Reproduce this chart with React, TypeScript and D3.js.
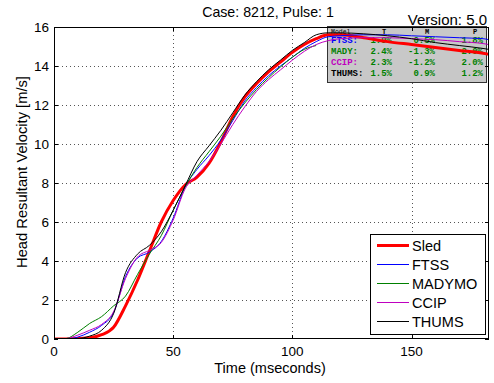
import * as d3 from "d3";
import { ReactElement } from "react";

// time base (ms) shared by all series
const time = [0, 5, 10, 15, 20, 25, 30, 35, 40, 45, 50, 55, 60, 65, 70, 75, 80, 85, 90, 95, 100, 105, 110, 115, 120, 130, 140, 150, 160, 170, 180, 182.5];

// head resultant velocity [m/s]; NaN = no data
const sled = [0, 0, 0.02, 0.06, 0.22, 0.6, 1.7, 3.0, 4.5, 6.0, 7.1, 7.9, 8.3, 9.0, 10.1, 11.4, 12.4, 13.1, 13.7, 14.2, 14.7, 15.1, 15.4, 15.6, 15.6, 15.45, 15.25, 15.1, 14.95, 14.8, 14.65, 14.6];
const ftss = [0, 0, 0.1, 0.35, 0.7, 1.35, 3.2, 4.15, 4.45, 5.0, 6.2, 7.8, 8.7, 9.4, 10.2, 11.2, 12.2, 12.9, 13.5, 14.0, 14.45, 14.9, 15.25, 15.5, 15.55, 15.6, 15.6, 15.55, 15.5, 15.45, 15.4, 15.35];
const madymo = [0, 0.02, 0.35, 0.8, 1.15, 1.7, 2.2, 3.3, 4.35, 5.3, 6.6, 7.8, 8.8, 9.6, 10.4, 11.3, 12.1, 12.8, 13.4, 13.95, 14.45, 14.85, 15.05, NaN, NaN, NaN, NaN, NaN, NaN, NaN, NaN, NaN];
const ccip = [0, 0.02, 0.2, 0.45, 0.75, 1.4, 3.1, 4.2, 4.55, 4.95, 6.1, 7.7, 8.4, 9.1, 10.0, 11.0, 11.9, 12.7, 13.3, 13.8, 14.3, 14.75, 15.1, 15.3, 15.4, 15.45, 15.45, 15.4, 15.35, 15.25, 15.15, 15.1];
const thums = [0, 0, 0.02, 0.15, 0.45, 1.3, 3.4, 4.35, 4.8, 5.5, 6.6, 7.85, 9.1, 9.9, 10.7, 11.6, 12.5, 13.2, 13.8, 14.3, 14.8, 15.2, 15.6, 15.7, 15.7, 15.65, 15.55, 15.4, 15.2, 15.05, 14.9, 14.85];

const seriesNames = ["Sled", "FTSS", "MADYMO", "CCIP", "THUMS"];
const seriesColors = ["#ff0000", "#0000ff", "#008000", "#bf00bf", "#000000"];
const seriesWidths = [3, 1, 1, 1, 1];
const seriesValues = [sled, ftss, madymo, ccip, thums];

const xTicks = [0, 50, 100, 150];
const yTicks = [0, 2, 4, 6, 8, 10, 12, 14, 16];

// error table
const tableHeader = ["Model", "T", "M", "P"];
const tableModels = ["FTSS:", "MADY:", "CCIP:", "THUMS:"];
const tableColors = ["#0000ff", "#008000", "#bf00bf", "#000000"];
const tableT = ["1.9%", "2.4%", "2.3%", "1.5%"];
const tableM = ["0.5%", "-1.3%", "-1.2%", "0.9%"];
const tableP = ["1.8%", "2.0%", "2.0%", "1.2%"];

const W = 494, H = 383;
const left = 54, right = 489, top = 27, bottom = 339;

const App = (): ReactElement => {
    const x = d3.scaleLinear().domain([0, 182.5]).range([left, right]);
    const y = d3.scaleLinear().domain([0, 16]).range([bottom, top]);

    const line = d3.line<[number, number]>()
        .defined((d) => !isNaN(d[1]))
        .x((d) => x(d[0]))
        .y((d) => y(d[1]))
        .curve(d3.curveMonotoneX);

    const font = "'Liberation Sans', Arial, sans-serif";
    const mono = "'Liberation Mono', 'Courier New', monospace";

    const colR = [392, 435, 483];
    const rowY = [43, 54, 65, 76];

    return (
        <svg width={W} height={H} style={{ position: "absolute", left: 0, top: 0 }} fontFamily={font}>
            <rect x={0} y={0} width={W} height={H} fill="#fff" />
            <defs>
                <clipPath id="plot">
                    <rect x={left} y={top} width={right - left} height={bottom - top} />
                </clipPath>
            </defs>

            {/* grid */}
            {xTicks.slice(1).map((t) => (
                <line key={"gx" + t} x1={Math.round(x(t)) + 0.5} x2={Math.round(x(t)) + 0.5} y1={top} y2={bottom}
                    stroke="#555" strokeDasharray="1,3" />
            ))}
            {yTicks.slice(1, -1).map((t) => (
                <line key={"gy" + t} y1={Math.round(y(t)) + 0.5} y2={Math.round(y(t)) + 0.5} x1={left} x2={right}
                    stroke="#555" strokeDasharray="1,3" />
            ))}

            {/* error table */}
            <rect x={327.5} y={26.5} width={159} height={56} fill="#c8c8c8" stroke="#333" />
            <text x={331} y={34} fontFamily={mono} fontSize={6.5} fill="#000">{tableHeader[0]}</text>
            {tableHeader.slice(1).map((h, i) => (
                <text key={h} x={colR[i] - 8} y={34} fontFamily={mono} fontSize={7} fontWeight="bold" textAnchor="middle">{h}</text>
            ))}
            {tableModels.map((m, i) => (
                <g key={m} fontFamily={mono} fontSize={9} fontWeight="bold">
                    <text x={331} y={rowY[i]} fill={tableColors[i]}>{m}</text>
                    <text x={colR[0]} y={rowY[i]} fill="#008000" textAnchor="end">{tableT[i]}</text>
                    <text x={colR[1]} y={rowY[i]} fill="#008000" textAnchor="end">{tableM[i]}</text>
                    <text x={colR[2]} y={rowY[i]} fill="#008000" textAnchor="end">{tableP[i]}</text>
                </g>
            ))}

            {/* curves */}
            <g clipPath="url(#plot)">
                {seriesValues.map((vals, i) => (
                    <path key={seriesNames[i]} d={line(time.map((t, j) => [t, vals[j]] as [number, number])) || ""}
                        fill="none" stroke={seriesColors[i]} strokeWidth={seriesWidths[i]} strokeLinejoin="round" />
                ))}
            </g>

            {/* axes box + ticks */}
            <rect x={left + 0.5} y={top + 0.5} width={right - left - 1} height={bottom - top - 1} fill="none" stroke="#000" />
            {xTicks.map((t) => (
                <g key={"tx" + t}>
                    <line x1={Math.round(x(t)) + 0.5} x2={Math.round(x(t)) + 0.5} y1={bottom} y2={bottom - 4} stroke="#000" />
                    <line x1={Math.round(x(t)) + 0.5} x2={Math.round(x(t)) + 0.5} y1={top} y2={top + 4} stroke="#000" />
                    <text x={x(t)} y={356} fontSize={13.5} textAnchor="middle">{t}</text>
                </g>
            ))}
            {yTicks.map((t) => (
                <g key={"ty" + t}>
                    <line y1={Math.round(y(t)) + 0.5} y2={Math.round(y(t)) + 0.5} x1={left} x2={left + 4} stroke="#000" />
                    <line y1={Math.round(y(t)) + 0.5} y2={Math.round(y(t)) + 0.5} x1={right} x2={right - 4} stroke="#000" />
                    <text x={49} y={y(t) + 5} fontSize={13.5} textAnchor="end">{t}</text>
                </g>
            ))}

            {/* legend */}
            <rect x={370.5} y={234.5} width={115} height={100} fill="#fff" stroke="#000" />
            {seriesNames.map((n, i) => (
                <g key={"lg" + n}>
                    <line x1={377} x2={409} y1={245.5 + i * 19} y2={245.5 + i * 19} stroke={seriesColors[i]} strokeWidth={seriesWidths[i]} />
                    <text x={412} y={250.5 + i * 19} fontSize={14.5}>{n}</text>
                </g>
            ))}

            {/* titles */}
            <text x={268} y={17} fontSize={14.2} textAnchor="middle">Case: 8212, Pulse: 1</text>
            <text x={487} y={25} fontSize={15} textAnchor="end">Version: 5.0</text>
            <text x={270} y={373} fontSize={14.5} textAnchor="middle">Time (mseconds)</text>
            <text transform={`translate(27,172) rotate(-90)`} fontSize={14.7} textAnchor="middle">Head Resultant Velocity [m/s]</text>
        </svg>
    );
};

export default App;
